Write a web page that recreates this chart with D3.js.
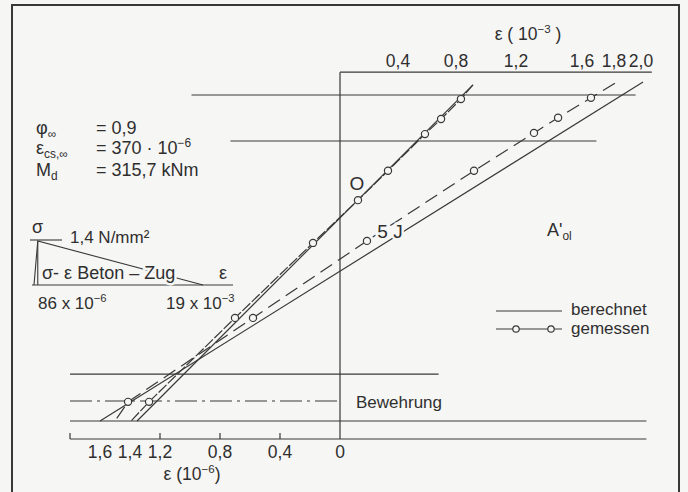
<!DOCTYPE html>
<html>
<head>
<meta charset="utf-8">
<script src="https://cdn.jsdelivr.net/npm/d3@7"></script>
<style>
  body { margin: 0; background: #f6f6f4; }
  svg { display: block; font-family: "Liberation Sans", Arial, sans-serif; }
  text { fill: #2f2f2f; }
</style>
</head>
<body>
<svg id="chart" width="688" height="492"></svg>
<script>
// strain in 10^-3, + = compression (top scale), - = tension (bottom scale); depth in cm
const topTicks = [0.4, 0.8, 1.2, 1.6, 1.8, 2.0];
const bottomTicks = [1.6, 1.4, 1.2, 0.8, 0.4, 0];
const bottomTickMarks = [1.8, 1.2, 0.8, 0.4];

// gemessen (measured)
const measured0 = [[0.833, 1.0], [0.697, 5.9], [0.586, 9.6], [0.331, 18.6], [0.124, 25.8], [-0.18, 36.3], [-0.70, 54.7], [-1.273, 75.3]];
const measured0Ends = [[0.913, -2.5], [-1.393, 80]];
const measured5J = [[1.656, 0.7], [1.455, 5.6], [1.309, 9.3], [0.92, 18.6], [0.186, 35.8], [-0.58, 54.7], [-1.413, 75.3]];
const measured5JEnds = [[1.807, -2.9], [-1.5, 80]];

// berechnet (computed)
const computed0 = [[0.913, -2.5], [-1.353, 80]];
const computed5J = [[2.015, -3.2], [-1.6, 80]];

// section outline
const sectionDepths = [0, 11.3, 68.5, 80, 84.4];
const sectionFrom = [-0.99, -0.73, -1.8, -1.8, -1.8];
const sectionTo = [1.96, 1.69, 0.68, 2.04, 2.04];
const rebarDepth = 75.1;
const topAxisDepth = -5.6;

// concrete tension sigma-epsilon inset
const insetEps = [0, 0.000086, 0.019];
const insetSigma = [0, 1.4, 0];

const svg = d3.select("#chart");
const ink = "#383838";

// hand drawn top scale is uneven, so piecewise-linear
const x = d3.scaleLinear()
  .domain([-1.8, 0, 0.4, 0.8, 1.2, 1.6, 1.8, 2.0])
  .range([70, 340, 398, 456, 516, 582, 614, 641]);
const y = d3.scaleLinear().domain([0, 80]).range([95, 421]);

const fmt = v => v === 0 ? "0" : d3.format(".1f")(Math.abs(v)).replace(".", ",");

function rich(g, px, py, parts, size, anchor) {
  const t = g.append("text").attr("x", px).attr("y", py)
    .attr("font-size", size).attr("text-anchor", anchor || "start");
  let shift = 0;
  parts.forEach(p => {
    const [str, kind] = Array.isArray(p) ? p : [p, ""];
    const target = kind === "sup" ? -0.4 * size : kind === "sub" ? 0.2 * size : 0;
    t.append("tspan").attr("dy", target - shift)
      .attr("font-size", kind ? size * 0.66 : size).text(str);
    shift = target;
  });
  return t;
}

// frame
svg.append("rect").attr("x", 12).attr("y", 5).attr("width", 667).attr("height", 492)
  .attr("fill", "none").attr("stroke", ink).attr("stroke-width", 2);

// section outline
const sec = svg.append("g").attr("stroke", ink).attr("stroke-width", 1.1);
sectionDepths.forEach((d, i) => {
  sec.append("line")
    .attr("x1", x(sectionFrom[i])).attr("x2", x(sectionTo[i]))
    .attr("y1", y(d)).attr("y2", y(d));
});
sec.append("line")
  .attr("x1", x(-1.8)).attr("x2", x(0))
  .attr("y1", y(rebarDepth)).attr("y2", y(rebarDepth))
  .attr("stroke-dasharray", "22,5,3,5");

// axes
svg.append("line").attr("stroke", ink).attr("stroke-width", 1.2)
  .attr("x1", x(0)).attr("x2", x(0)).attr("y1", y(topAxisDepth)).attr("y2", y(84.4));
svg.append("line").attr("stroke", ink).attr("stroke-width", 1.2)
  .attr("x1", x(0)).attr("x2", x(2.08)).attr("y1", y(topAxisDepth)).attr("y2", y(topAxisDepth));

svg.append("g").selectAll("text").data(topTicks).join("text")
  .attr("x", d => x(d)).attr("y", 67).attr("font-size", 17.5)
  .attr("text-anchor", "middle").text(d => fmt(d));
rich(svg, 528, 40, ["ε ( 10", ["−3", "sup"], " )"], 17.5, "middle");

svg.append("g").attr("stroke", ink).attr("stroke-width", 1.2)
  .selectAll("line").data(bottomTickMarks).join("line")
  .attr("x1", d => x(-d)).attr("x2", d => x(-d))
  .attr("y1", y(84.4)).attr("y2", y(84.4) - 6);
svg.append("g").selectAll("text").data(bottomTicks).join("text")
  .attr("x", d => x(-d)).attr("y", 458).attr("font-size", 17.5)
  .attr("text-anchor", "middle").text(d => fmt(d));
rich(svg, 192, 480, ["ε (10", ["−6", "sup"], ")"], 17.5, "middle");

// strain lines
const line = d3.line().x(d => x(d[0])).y(d => y(d[1]));
const lines = svg.append("g").attr("fill", "none").attr("stroke", ink).attr("stroke-width", 1.2);
lines.append("path").attr("d", line(computed0));
lines.append("path").attr("d", line(computed5J));
lines.append("path").attr("d", line([measured0Ends[0], ...measured0, measured0Ends[1]]))
  .attr("stroke-dasharray", "11,2");
lines.append("path").attr("d", line([measured5JEnds[0], ...measured5J, measured5JEnds[1]]))
  .attr("stroke-dasharray", "14,7");

svg.append("g").attr("fill", "#f6f6f4").attr("stroke", ink).attr("stroke-width", 1.2)
  .selectAll("circle").data(measured0.concat(measured5J)).join("circle")
  .attr("cx", d => x(d[0])).attr("cy", d => y(d[1])).attr("r", 3.6);

// labels on curves
const halo = t => t.attr("stroke", "#f6f6f4").attr("stroke-width", 5).attr("paint-order", "stroke");
halo(svg.append("text").attr("x", 357).attr("y", 190).attr("font-size", 19)
  .attr("text-anchor", "middle").text("O"));
halo(svg.append("text").attr("x", 390).attr("y", 238).attr("font-size", 19)
  .attr("text-anchor", "middle").text("5 J"));
rich(svg, 547, 236, ["A'", ["ol", "sub"]], 18);
rich(svg, 356, 408, ["Bewehrung"], 17);

// legend
const lg = svg.append("g").attr("stroke", ink).attr("stroke-width", 1.2);
lg.append("line").attr("x1", 496).attr("x2", 562).attr("y1", 311).attr("y2", 311);
lg.append("line").attr("x1", 496).attr("x2", 562).attr("y1", 329).attr("y2", 329);
lg.selectAll("circle").data([516, 551]).join("circle")
  .attr("cx", d => d).attr("cy", 329).attr("r", 3.2).attr("fill", "#f6f6f4");
rich(svg, 571, 315, ["berechnet"], 17);
rich(svg, 571, 334, ["gemessen"], 17);

// parameters
const par = svg.append("g");
rich(par, 36, 134, ["φ", ["∞", "sub"]], 18);
rich(par, 96, 134, ["= 0,9"], 18);
rich(par, 36, 154, ["ε", ["cs,∞", "sub"]], 18);
rich(par, 96, 154, ["= 370 · 10", ["−6", "sup"]], 18);
rich(par, 36, 176, ["M", ["d", "sub"]], 18);
rich(par, 96, 176, ["= 315,7 kNm"], 18);

// inset sigma-epsilon (not to scale)
const ix = d3.scaleLinear().domain([0, 0.019]).range([34, 203]);
const iy = d3.scaleLinear().domain([0, 1.4]).range([285, 241]);
const inset = svg.append("g").attr("fill", "none").attr("stroke", ink).attr("stroke-width", 1.1);
inset.append("line").attr("x1", ix(0) - 2).attr("x2", 233).attr("y1", iy(0)).attr("y2", iy(0));
inset.append("path").attr("d", d3.line().x((d, i) => ix(d) + (i === 1 ? 3 : 0)).y((d, i) => iy(insetSigma[i]))(insetEps));
inset.append("line").attr("x1", ix(insetEps[1]) + 3).attr("x2", ix(insetEps[1]) + 3)
  .attr("y1", iy(1.4)).attr("y2", iy(0));
inset.append("line").attr("x1", 30).attr("x2", 62).attr("y1", iy(1.4) - 1).attr("y2", iy(1.4) - 1);
rich(svg, 32, 233, ["σ"], 18);
rich(svg, 70, 243, ["1,4 N/mm²"], 17);
halo(rich(svg, 42, 279, ["σ- ε Beton – Zug"], 18));
rich(svg, 219, 279, ["ε"], 18);
rich(svg, 38, 309, ["86 x 10", ["−6", "sup"]], 17);
rich(svg, 166, 309, ["19 x 10", ["−3", "sup"]], 17);
</script>
</body>
</html>
